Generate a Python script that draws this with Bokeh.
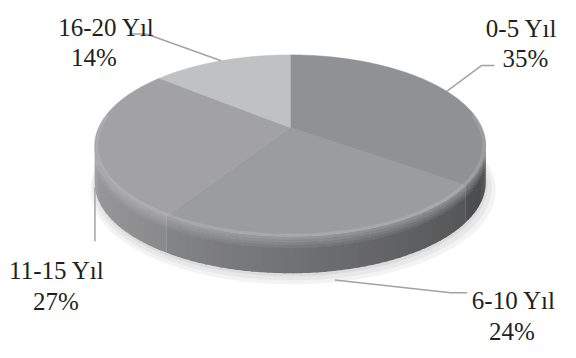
import numpy as np
from bokeh.plotting import figure
from bokeh.models import Range1d, ColumnDataSource
from bokeh.core.properties import value
from bokeh.embed import file_html
from bokeh.resources import INLINE

# ---- data ----
categories = ["0-5 Yıl", "6-10 Yıl", "11-15 Yıl", "16-20 Yıl"]
percentages = [35, 24, 27, 14]

# ---- style ----
top_colors = ["#909193", "#9b9c9e", "#a2a2a4", "#c0c1c2"]
text_color = "#231f20"
leader_color = "#a3a3a3"
FONT = "Liberation Serif"
FONT_SIZE = "25px"

# ---- layout: the data space is the 576x358 chart area, drawn into 560x342 px ----
W, H = 560, 342
XR, YR = 576, 358
CX, CY = 298.0, 133.0        # apex of the pie
A, B, K = 197.0, 91.2, 0.2   # perspective ellipse parameters
DEPTH = 38.0
# label positions: (name_x, name_baseline, pct_x, pct_baseline)
label_pos = [
    (536, 29, 540, 61),
    (528, 314, 526, 346),
    (58, 283, 57, 315),
    (109, 28, 96, 60),
]
# leader-line elbow points (after the anchor on the pie)
leader_tail = [
    [(495, 68), (508, 68)],
    [(463, 306), (480, 306)],
    [(None, 252)],
    [(150, 35), (133, 35)],
]


def proj(theta_deg, r=1.0):
    t = np.radians(theta_deg)
    d = 1 + K * r * np.cos(t)
    return CX + A * r * np.sin(t) / d, CY - B * r * np.cos(t) / d


def hex2rgb(h):
    h = h.lstrip("#")
    return np.array([int(h[i:i + 2], 16) for i in (0, 2, 4)], dtype=float)


def rgb2hex(c):
    c = np.clip(c, 0, 255).round().astype(int)
    return "#%02x%02x%02x" % tuple(c)


total = float(sum(percentages))
ends = np.cumsum(percentages) / total * 360.0
starts = np.concatenate([[0.0], ends[:-1]])

p = figure(width=W, height=H, x_range=Range1d(0, XR), y_range=Range1d(YR, 0),
           x_axis_type=None, y_axis_type=None, toolbar_location=None,
           output_backend="svg", min_border=0, outline_line_color=None,
           background_fill_color="white", border_fill_color="white")
p.grid.visible = False

# ---- soft shadow ----
th = np.linspace(0, 360, 181)
for r, dy, dx, col in [(1.035, DEPTH + 7, 3, "#f3f3f3"), (1.02, DEPTH + 5, 2, "#e8e8e8"),
                       (1.005, DEPTH + 3, 1, "#dcdcdc")]:
    sx, sy = proj(th, r)
    p.patch(sx + dx, sy + dy, fill_color=col, line_color=None)

# ---- side (vertical gradient bands, horizontal lighting) ----
thR = np.degrees(np.arccos(-K))
thL = 360.0 - thR
bands = [(0, 3, 0.0), (3, 6, 0.25), (6, 9, 0.5), (9, 12, 0.75), (12, DEPTH, 1.0)]
xs, ys, cols = [], [], []
for i in range(len(percentages)):
    a0, a1 = max(starts[i], thR - 2), min(ends[i], thL + 2)
    if a1 <= a0:
        continue
    base = hex2rgb(top_colors[i])
    n = max(2, int(np.ceil((a1 - a0) / 2.0)))
    edges = np.linspace(a0, a1, n + 1)
    for j in range(n):
        t0, t1 = edges[j], edges[j + 1]
        t1e = min(t1 + 0.6, a1)
        s = np.sin(np.radians((t0 + t1) / 2))
        c_side = base * (0.73 - 0.22 * s)
        c_bev = np.minimum(base * (1.06 - 0.10 * (s + 1)), 255)
        tt = np.linspace(t0, t1e, 4)
        ex, ey = proj(tt)
        for (o0, o1, w) in bands:
            c = c_bev * (1 - w) + c_side * w
            xs.append(np.concatenate([ex, ex[::-1]]).tolist())
            ys.append(np.concatenate([ey + o0, (ey + o1 + 0.5)[::-1]]).tolist())
            cols.append(rgb2hex(c))
p.patches(xs="xs", ys="ys", fill_color="c", line_color=None,
          source=ColumnDataSource(dict(xs=xs, ys=ys, c=cols)))

# ---- top face ----
txs, tys = [], []
for i in range(len(percentages)):
    t = np.linspace(starts[i], ends[i], max(3, int(ends[i] - starts[i]) + 1))
    ex, ey = proj(t)
    txs.append(np.concatenate([[CX], ex]).tolist())
    tys.append(np.concatenate([[CY], ey]).tolist())
p.patches(xs="xs", ys="ys", fill_color="c", line_color="c", line_width=0.6,
          source=ColumnDataSource(dict(xs=txs, ys=tys, c=top_colors)))

# subtle rim highlight on the front of the top face
tf = np.linspace(thR - 20, thL + 20, 160)
hx, hy = proj(tf, 0.99)
p.line(hx, hy, line_color="white", line_alpha=0.12, line_width=3)

# ---- leader lines ----
lxs, lys = [], []
for i in range(len(percentages)):
    mid = (starts[i] + ends[i]) / 2
    ax, ay = proj(mid)
    if 90 < mid < 270:
        ay = ay + DEPTH + 10
    px, py = [ax], [ay]
    for qx, qy in leader_tail[i]:
        px.append(ax if qx is None else qx)
        py.append(qy)
    lxs.append(px)
    lys.append(py)
p.multi_line(lxs, lys, line_color=leader_color, line_width=1.5)

# ---- labels ----
names = ColumnDataSource(dict(x=[lp[0] for lp in label_pos], y=[lp[1] for lp in label_pos],
                              t=categories))
pcts = ColumnDataSource(dict(x=[lp[2] for lp in label_pos], y=[lp[3] for lp in label_pos],
                             t=["%d%%" % v for v in percentages]))
for src in (names, pcts):
    p.text(x="x", y="y", text="t", source=src, text_font=value(FONT),
           text_font_size=FONT_SIZE, text_color=text_color, text_align="center",
           text_baseline="alphabetic")

open("out.html", "w").write(file_html(p, INLINE))
